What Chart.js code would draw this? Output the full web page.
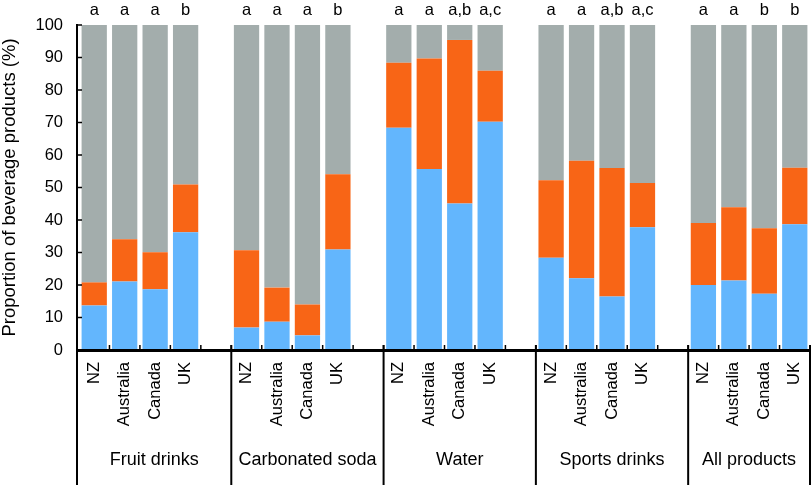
<!DOCTYPE html>
<html>
<head>
<meta charset="utf-8">
<script src="https://cdn.jsdelivr.net/npm/chart.js@4/dist/chart.umd.min.js"></script>
<style>
  html, body { margin: 0; padding: 0; background: #fff; }
  #wrap { width: 812px; height: 485px; }
</style>
</head>
<body>
<div id="wrap"><canvas id="chart"></canvas></div>
<script>
// categories
var groups = ['Fruit drinks', 'Carbonated soda', 'Water', 'Sports drinks', 'All products'];
var countries = ['NZ', 'Australia', 'Canada', 'UK'];

// segment sizes (%), in order group by group, NZ / Australia / Canada / UK
var blueSeg = [13.7, 21.1, 18.7, 36.2,
               6.9, 8.7, 4.5, 30.9,
               68.4, 55.7, 45.1, 70.2,
               28.4, 22.1, 16.5, 37.8,
               20.0, 21.4, 17.3, 38.7];
var orangeSeg = [7.1, 13.0, 11.4, 14.7,
                 23.8, 10.5, 9.5, 23.2,
                 20.0, 34.0, 50.3, 15.7,
                 23.8, 36.1, 39.5, 13.6,
                 19.1, 22.5, 20.2, 17.4];
var graySeg = [79.2, 65.9, 69.9, 49.1,
               69.3, 80.8, 86.0, 45.9,
               11.6, 10.3, 4.6, 14.1,
               47.8, 41.8, 44.0, 48.6,
               60.9, 56.1, 62.5, 43.9];

// significance letters over each bar
var letters = ['a', 'a', 'a', 'b',
               'a', 'a', 'a', 'b',
               'a', 'a', 'a,b', 'a,c',
               'a', 'a', 'a,b', 'a,c',
               'a', 'a', 'b', 'b'];

var yTicks = [0, 10, 20, 30, 40, 50, 60, 70, 80, 90, 100];

var FONT = '"Liberation Sans", Arial, Helvetica, sans-serif';

// spread the values over slots, with an empty slot between groups
var labels = [], blue = [], orange = [], gray = [], slotLetters = [];
for (var g = 0; g < groups.length; g++) {
    for (var c = 0; c < countries.length; c++) {
        var k = g * countries.length + c;
        labels.push(countries[c]);
        blue.push(blueSeg[k]);
        orange.push(orangeSeg[k]);
        gray.push(graySeg[k]);
        slotLetters.push(letters[k]);
    }
    if (g < groups.length - 1) {
        labels.push('');
        blue.push(null);
        orange.push(null);
        gray.push(null);
        slotLetters.push('');
    }
}

var decor = {
    id: 'decor',
    afterDraw: function (chart) {
        var ctx = chart.ctx;
        var xs = chart.scales.x;
        var ys = chart.scales.y;
        var area = chart.chartArea;
        var y0 = ys.getPixelForValue(0);
        var y100 = ys.getPixelForValue(100);
        var half = (xs.getPixelForValue(1) - xs.getPixelForValue(0)) / 2;
        var axisX = area.left - 2;
        ctx.save();
        ctx.strokeStyle = '#000';

        // y axis with inward ticks
        ctx.lineWidth = 2;
        ctx.beginPath();
        ctx.moveTo(axisX, y100 - 1);
        ctx.lineTo(axisX, y0);
        ctx.stroke();
        ctx.lineWidth = 1.5;
        yTicks.forEach(function (v) {
            var py = ys.getPixelForValue(v);
            ctx.beginPath();
            ctx.moveTo(axisX, py);
            ctx.lineTo(axisX + 5, py);
            ctx.stroke();
        });

        // x axis line
        ctx.lineWidth = 3;
        ctx.beginPath();
        ctx.moveTo(axisX - 1, y0 + 0.5);
        ctx.lineTo(area.right + 1, y0 + 0.5);
        ctx.stroke();

        // slot ticks pointing up
        ctx.lineWidth = 1.5;
        for (var i = 0; i < labels.length; i++) {
            var bx = xs.getPixelForValue(i) + half;
            ctx.beginPath();
            ctx.moveTo(bx, y0);
            ctx.lineTo(bx, y0 - 5);
            ctx.stroke();
        }

        // group separators down to the bottom
        var seps = [axisX];
        for (var s = 1; s < groups.length; s++) {
            seps.push(xs.getPixelForValue(s * 5) - half);
        }
        seps.push(area.right);
        ctx.lineWidth = 2;
        seps.forEach(function (sx) {
            ctx.beginPath();
            ctx.moveTo(sx, y0 - 5);
            ctx.lineTo(sx, chart.height);
            ctx.stroke();
        });

        // group names
        ctx.fillStyle = '#000';
        ctx.font = '18px ' + FONT;
        ctx.textAlign = 'center';
        ctx.textBaseline = 'alphabetic';
        for (var g2 = 0; g2 < groups.length; g2++) {
            ctx.fillText(groups[g2], (seps[g2] + seps[g2 + 1]) / 2, 465);
        }

        // letters above bars
        ctx.font = '16.5px ' + FONT;
        for (var j = 0; j < slotLetters.length; j++) {
            if (slotLetters[j]) {
                ctx.fillText(slotLetters[j], xs.getPixelForValue(j), 15);
            }
        }

        // y axis title
        ctx.font = '18.5px ' + FONT;
        ctx.translate(10, (y0 + y100) / 2);
        ctx.rotate(-Math.PI / 2);
        ctx.textBaseline = 'middle';
        ctx.fillText('Proportion of beverage products (%)', 0, 0);
        ctx.restore();
    }
};

var ctx = document.getElementById('chart');
var myChart = new Chart(ctx, {
    type: 'bar',
    data: {
        labels: labels,
        datasets: [
            { label: 'blue', data: blue, backgroundColor: '#63b6fd' },
            { label: 'orange', data: orange, backgroundColor: '#f86516' },
            { label: 'gray', data: gray, backgroundColor: '#a3adac' }
        ]
    },
    options: {
        responsive: true,
        maintainAspectRatio: false,
        animation: false,
        devicePixelRatio: 1,
        layout: { padding: { top: 25, right: 2, left: 0, bottom: 0 } },
        datasets: {
            bar: { categoryPercentage: 1, barPercentage: 0.83 }
        },
        plugins: {
            legend: { display: false },
            tooltip: { enabled: false }
        },
        scales: {
            x: {
                stacked: true,
                grid: { display: false, drawTicks: false },
                border: { display: false },
                afterFit: function (scale) {
                    scale.height = 135;
                    scale.paddingLeft = 0;
                    scale.paddingRight = 0;
                },
                ticks: {
                    autoSkip: false,
                    minRotation: 90,
                    maxRotation: 90,
                    padding: 12,
                    color: '#000',
                    font: { family: FONT, size: 16.5 }
                }
            },
            y: {
                stacked: true,
                min: 0,
                max: 100,
                grid: { display: false, drawTicks: false },
                border: { display: false },
                afterFit: function (scale) {
                    scale.width = 79;
                    scale.paddingTop = 0;
                    scale.paddingBottom = 0;
                },
                ticks: {
                    stepSize: 10,
                    padding: 16,
                    color: '#000',
                    font: { family: FONT, size: 16.5 }
                }
            }
        }
    },
    plugins: [decor]
});
</script>
</body>
</html>
